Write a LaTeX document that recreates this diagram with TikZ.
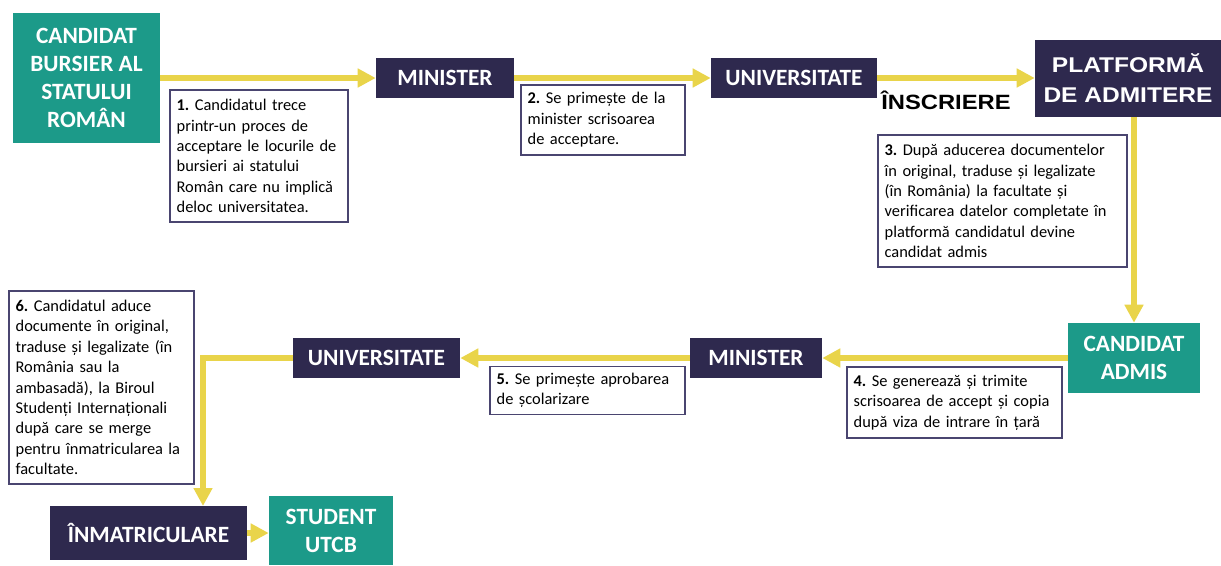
\documentclass[tikz,border=0pt]{standalone}
\usepackage{fontspec}
\setmainfont{Carlito}
\newfontfamily\robo{Liberation Sans}[FakeStretch=1.15]
\usetikzlibrary{arrows.meta,calc}
\definecolor{teal1}{HTML}{1C9A89}
\definecolor{navy1}{HTML}{2E294E}
\definecolor{bord1}{HTML}{4A4570}
\definecolor{yel1}{HTML}{E9D44A}
\begin{document}
\frenchspacing
\begin{tikzpicture}[x=0.75pt,y=-0.75pt,
  tealbox/.style={fill=teal1,text=white,font=\bfseries\fontsize{17.5}{21}\selectfont,align=center,inner sep=0pt},
  navybox/.style={fill=navy1,text=white,font=\bfseries\fontsize{17.5}{21}\selectfont,align=center,inner sep=0pt},
  notebox/.style={draw=bord1,line width=0.9pt,fill=white,text=black,font=\fontsize{12.3}{15.3}\selectfont,align=left,inner sep=5pt},
  flow/.style={draw=yel1,line width=4.5pt,-{Triangle[length=13.5pt,width=13.5pt]}}]
\useasboundingbox (0,0) rectangle (1221,565);
% main nodes
\node[tealbox,minimum width=110.25pt,minimum height=97.5pt] (cand) at (86.5,78) {CANDIDAT\\BURSIER AL\\STATULUI\\ROMÂN};
\node[navybox,minimum width=103.5pt,minimum height=30pt] (min1) at (445,78) {MINISTER};
\node[navybox,minimum width=124.5pt,minimum height=30pt] (uni1) at (794,78) {UNIVERSITATE};
\node[navybox,font=\robo\bfseries\fontsize{16}{22.5}\selectfont,minimum width=139.5pt,minimum height=57.75pt] (plat) at (1128,78.5) {PLATFORMĂ\\DE ADMITERE};
\node[tealbox,minimum width=99pt,minimum height=52.5pt] (admis) at (1134,358) {CANDIDAT\\ADMIS};
\node[navybox,minimum width=99pt,minimum height=30pt] (min2) at (756,358) {MINISTER};
\node[navybox,minimum width=125.25pt,minimum height=30pt] (uni2) at (376.5,358) {UNIVERSITATE};
\node[navybox,minimum width=147.75pt,minimum height=40.5pt] (inmat) at (148.5,533) {ÎNMATRICULARE};
\node[tealbox,minimum width=93pt,minimum height=51.75pt] (stud) at (331,530.5) {STUDENT\\UTCB};
% label
\node[font=\robo\bfseries\fontsize{15.5}{20}\selectfont,inner sep=0pt] (insc) at (946,100) {ÎNSCRIERE};
% note boxes
\node[notebox,minimum width=133.5pt,minimum height=99pt,text width=123.5pt] (n1) at (259,156) {\textbf{1.} Candidatul trece\\printr-un proces de\\acceptare le locurile de\\bursieri ai statului\\Român care nu implică\\deloc universitatea.};
\node[notebox,minimum width=123pt,minimum height=52.5pt,text width=113pt] (n2) at (603,120) {\textbf{2.} Se primește de la\\minister scrisoarea\\de acceptare.};
\node[notebox,minimum width=186.75pt,minimum height=99pt,text width=176.75pt] (n3) at (1002.5,201) {\textbf{3.} După aducerea documentelor\\în original, traduse și legalizate\\(în România) la facultate și\\verificarea datelor completate în\\platformă candidatul devine\\candidat admis};
\node[notebox,minimum width=161.25pt,minimum height=53.25pt,text width=151.25pt] (n4) at (954.5,402.5) {\textbf{4.} Se generează și trimite\\scrisoarea de accept și copia\\după viza de intrare în țară};
\node[notebox,minimum width=146.25pt,minimum height=33.75pt,text width=136.25pt] (n5) at (587.5,390.5) {\textbf{5.} Se primește aprobarea\\de școlarizare};
\node[notebox,minimum width=138.75pt,minimum height=144.75pt,text width=128.75pt] (n6) at (101.5,387.5) {\textbf{6.} Candidatul aduce\\documente în original,\\traduse și legalizate (în\\România sau la\\ambasadă), la Biroul\\Studenți Internaționali\\după care se merge\\pentru înmatricularea la\\facultate.};
% connectors
\coordinate (t7) at (203,506);
\draw[flow] (cand.east |- min1.west) -- (min1.west);
\draw[flow] (min1.east) -- (uni1.west);
\draw[flow] (uni1.east) -- (uni1.east -| plat.west);
\draw[flow] (plat.south -| admis.north) -- (admis.north);
\draw[flow] (admis.west) -- (min2.east);
\draw[flow] (min2.west) -- (uni2.west -| uni2.east);
\draw[flow] (uni2.west) -| (t7);
\draw[flow] (inmat.east) -- (inmat.east -| stud.west);
\end{tikzpicture}
\end{document}
